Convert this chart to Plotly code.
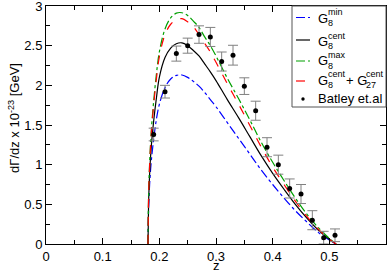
import plotly.graph_objects as go

# theory curves
z_curve = [0.180, 0.181, 0.182, 0.1837, 0.186, 0.190, 0.195, 0.200, 0.210, 0.220, 0.230, 0.240,
           0.250, 0.260, 0.270, 0.280, 0.290, 0.300, 0.320, 0.340, 0.360, 0.380, 0.400,
           0.420, 0.440, 0.460, 0.480, 0.500, 0.512]
g8_min = [0.0, 0.42, 0.62, 0.85, 1.06, 1.32, 1.58, 1.76, 1.97, 2.08, 2.125, 2.13,
          2.10, 2.05, 1.99, 1.91, 1.82, 1.73, 1.53, 1.33, 1.13, 0.93, 0.75,
          0.58, 0.42, 0.28, 0.15, 0.05, 0.0]
g8_cent = [0.0, 0.50, 0.73, 1.00, 1.25, 1.55, 1.85, 2.10, 2.35, 2.47, 2.525, 2.535,
           2.50, 2.44, 2.37, 2.27, 2.17, 2.06, 1.82, 1.59, 1.35, 1.11, 0.89,
           0.69, 0.50, 0.33, 0.18, 0.06, 0.0]
g8_max = [0.0, 0.60, 0.85, 1.15, 1.45, 1.80, 2.15, 2.42, 2.71, 2.85, 2.91, 2.915,
          2.88, 2.81, 2.73, 2.61, 2.50, 2.37, 2.09, 1.83, 1.56, 1.28, 1.03,
          0.80, 0.58, 0.38, 0.21, 0.07, 0.0]
g8_g27 = [0.0, 0.58, 0.83, 1.12, 1.41, 1.75, 2.09, 2.36, 2.64, 2.77, 2.83, 2.84,
          2.80, 2.74, 2.64, 2.53, 2.42, 2.29, 2.02, 1.76, 1.49, 1.22, 0.97,
          0.75, 0.54, 0.35, 0.19, 0.06, 0.0]

# experimental points
z_data = [0.19, 0.21, 0.23, 0.25, 0.27, 0.29, 0.31, 0.33, 0.35, 0.37, 0.39, 0.41, 0.43, 0.45, 0.47, 0.49, 0.51]
y_data = [1.38, 1.92, 2.40, 2.50, 2.64, 2.61, 2.30, 2.38, 1.99, 1.68, 1.22, 1.00, 0.70, 0.63, 0.30, 0.08, 0.11]
y_err = [0.08, 0.08, 0.095, 0.095, 0.11, 0.12, 0.12, 0.125, 0.105, 0.12, 0.12, 0.12, 0.12, 0.12, 0.12, 0.08, 0.08]

x_ticks = [0, 0.1, 0.2, 0.3, 0.4, 0.5]
x_labels = ["0", "0.1", "0.2", "0.3", "0.4", "0.5"]
y_ticks = [0, 0.5, 1, 1.5, 2, 2.5, 3]
y_labels = ["0", "0.5", "1", "1.5", "2", "2.5", "3"]

font = "Liberation Sans, Arial, sans-serif"
W, H = 388, 270
L, R, T, B = 46, 2, 6, 26
PW, PH = W - L - R, H - T - B


def px(x):
    return (x - L) / PW


def py(y):
    return (H - B - y) / PH


fig = go.Figure()
fig.add_trace(go.Scatter(x=z_curve, y=g8_min, mode="lines",
                         line=dict(color="#0000ff", width=1.2, dash="dashdot"), line_shape="spline"))
fig.add_trace(go.Scatter(x=z_curve, y=g8_cent, mode="lines",
                         line=dict(color="#000000", width=1.2), line_shape="spline"))
fig.add_trace(go.Scatter(x=z_curve, y=g8_max, mode="lines",
                         line=dict(color="#00a000", width=1.2, dash="dashdot"), line_shape="spline"))
fig.add_trace(go.Scatter(x=z_curve, y=g8_g27, mode="lines",
                         line=dict(color="#ff0000", width=1.2, dash="dash"), line_shape="spline"))
fig.add_trace(go.Scatter(x=z_data, y=y_data, mode="markers",
                         marker=dict(color="black", size=5),
                         error_y=dict(type="data", array=y_err, color="#808080", thickness=1, width=5)))

axis_common = dict(showline=True, linecolor="black", linewidth=1, mirror="ticks",
                   ticks="inside", ticklen=6, tickcolor="black", showgrid=False, zeroline=False,
                   automargin=False, ticklabeloverflow="allow",
                   tickfont=dict(size=13, color="black", family=font))

fig.update_xaxes(range=[0, 0.6], tickvals=x_ticks, ticktext=x_labels,
                 minor=dict(ticks="inside", ticklen=4, dtick=0.05, tick0=0, tickcolor="black"),
                 **axis_common)
fig.update_yaxes(range=[0, 3], tickvals=y_ticks, ticktext=y_labels,
                 minor=dict(ticks="inside", ticklen=4, dtick=0.25, tick0=0, tickcolor="black"),
                 **axis_common)

annotations = []
shapes = []

# axis titles
annotations.append(dict(text="z", x=px(216), y=py(265), xref="paper", yref="paper",
                        showarrow=False, font=dict(size=13, family=font, color="black"),
                        xanchor="center", yanchor="middle"))
annotations.append(dict(text="dΓ/dz x 10<sup>-23</sup> [GeV]", x=px(14), y=py(118), xref="paper", yref="paper",
                        showarrow=False, textangle=-90, font=dict(size=13, family=font, color="black"),
                        xanchor="center", yanchor="middle"))

# legend box
shapes.append(dict(type="rect", xref="paper", yref="paper", x0=px(292), x1=px(386), y0=py(107), y1=py(6),
                   line=dict(color="#555555", width=1), fillcolor="white", layer="above"))

legend_lines = [
    (17.5, "#0000ff", "dashdot"),
    (40, "#000000", "solid"),
    (61, "#00a000", "dashdot"),
    (81, "#ff0000", "dash"),
]
for yy, col, dash in legend_lines:
    shapes.append(dict(type="line", xref="paper", yref="paper", x0=px(296), x1=px(310), y0=py(yy), y1=py(yy),
                       line=dict(color=col, width=1.2, dash=dash), layer="above"))
shapes.append(dict(type="circle", xref="paper", yref="paper", x0=px(301.3), x1=px(304.7), y0=py(100.7), y1=py(97.3),
                   fillcolor="black", line=dict(color="black", width=0), layer="above"))

big = dict(size=13, family=font, color="black")
small = dict(size=9, family=font, color="black")


def txt(s, x, y, f):
    annotations.append(dict(text=s, x=px(x), y=py(y), xref="paper", yref="paper", showarrow=False,
                            font=f, xanchor="left", yanchor="middle"))


legend_rows = [(18, "min"), (41.5, "cent"), (60.5, "max"), (80, "cent")]
for yy, sup in legend_rows:
    txt("G", 316, yy, big)
    txt("8", 326, yy + 5, small)
    txt(sup, 326, yy - 6, small)
txt("+ G", 344, 80, big)
txt("27", 363.5, 85, small)
txt("cent", 363.5, 74, small)
txt("Batley et.al", 316, 98.5, big)

fig.update_layout(
    width=W, height=H,
    margin=dict(l=L, r=R, t=T, b=B),
    paper_bgcolor="white", plot_bgcolor="white",
    font=dict(family=font, size=13, color="black"),
    showlegend=False, hovermode=False,
    annotations=annotations, shapes=shapes,
)

fig.write_html("out.html", config={"displayModeBar": False, "staticPlot": True},
               post_script="document.body.style.margin='0';document.body.style.padding='0';")
